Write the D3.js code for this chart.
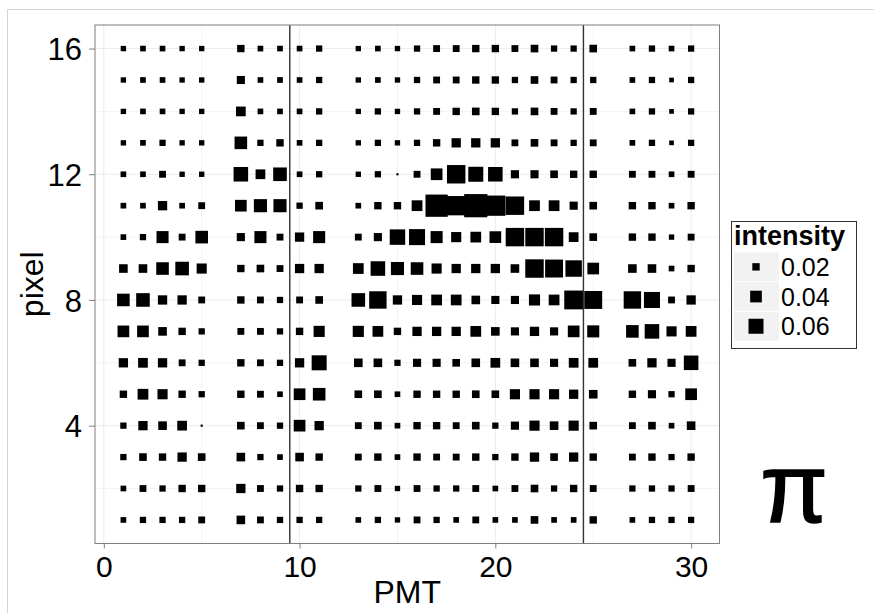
<!DOCTYPE html>
<html>
<head>
<meta charset="utf-8">
<script src="https://cdn.jsdelivr.net/npm/d3@7"></script>
<style>
  html, body { margin: 0; padding: 0; background: #fff; }
  svg { display: block; }
  text { font-family: "Liberation Sans", Arial, Helvetica, sans-serif; fill: #000; }
</style>
</head>
<body>
<svg id="chart" width="874" height="613"></svg>
<script>
// PMT columns that carry readings (6, 12 and 26 are absent)
const pmt = [1,2,3,4,5,7,8,9,10,11,13,14,15,16,17,18,19,20,21,22,23,24,25,27,28,29,30];
// pixel rows, top to bottom
const pixels = [16,15,14,13,12,11,10,9,8,7,6,5,4,3,2,1];
// intensity per pixel row, one value per PMT column above
const intensity = [
  [.013,.014,.014,.013,.013,.020,.014,.014,.014,.016,.013,.014,.013,.016,.018,.018,.020,.020,.018,.021,.016,.016,.021,.014,.016,.014,.016],
  [.013,.014,.014,.013,.013,.023,.014,.014,.014,.016,.013,.014,.013,.016,.018,.018,.020,.020,.016,.021,.018,.016,.016,.014,.016,.011,.016],
  [.013,.014,.014,.013,.013,.030,.014,.014,.014,.016,.013,.016,.013,.016,.018,.020,.021,.020,.016,.021,.018,.016,.018,.014,.016,.011,.016],
  [.013,.014,.016,.013,.013,.045,.016,.020,.014,.016,.013,.016,.013,.016,.020,.028,.028,.028,.018,.021,.018,.016,.018,.014,.016,.011,.016],
  [.014,.014,.018,.013,.013,.057,.030,.051,.014,.016,.013,.016,.005,.018,.040,.085,.060,.057,.023,.023,.021,.020,.020,.018,.018,.014,.018],
  [.014,.014,.028,.014,.018,.040,.048,.048,.016,.021,.014,.020,.020,.035,.118,.092,.127,.100,.085,.035,.035,.023,.021,.020,.020,.014,.020],
  [.014,.016,.042,.018,.045,.023,.042,.018,.028,.042,.018,.023,.063,.067,.042,.032,.035,.040,.085,.085,.085,.030,.021,.020,.020,.013,.018],
  [.025,.025,.045,.051,.032,.020,.021,.018,.028,.028,.035,.057,.048,.045,.032,.028,.028,.028,.025,.085,.081,.070,.040,.025,.025,.014,.020],
  [.045,.051,.028,.028,.018,.020,.018,.016,.018,.021,.051,.077,.028,.032,.035,.035,.025,.023,.023,.037,.035,.088,.081,.077,.067,.018,.028],
  [.040,.040,.025,.020,.016,.018,.018,.016,.020,.037,.037,.035,.020,.028,.028,.028,.035,.025,.023,.028,.023,.040,.042,.045,.057,.032,.035],
  [.028,.030,.028,.018,.016,.020,.018,.016,.028,.060,.025,.025,.016,.023,.023,.021,.025,.030,.025,.025,.023,.030,.030,.021,.028,.023,.057],
  [.020,.035,.032,.020,.016,.020,.018,.014,.040,.045,.021,.021,.014,.020,.020,.020,.021,.021,.032,.032,.032,.028,.025,.020,.023,.016,.040],
  [.016,.028,.025,.030,.005,.021,.018,.016,.040,.028,.018,.021,.014,.020,.020,.018,.021,.016,.023,.032,.025,.032,.021,.018,.021,.014,.025],
  [.016,.021,.020,.028,.021,.025,.016,.014,.025,.020,.018,.020,.014,.020,.018,.018,.020,.016,.020,.028,.021,.028,.020,.018,.020,.016,.020],
  [.014,.018,.016,.020,.020,.028,.018,.016,.020,.020,.016,.018,.013,.018,.016,.016,.018,.014,.018,.021,.016,.020,.018,.016,.016,.016,.018],
  [.014,.016,.016,.016,.018,.025,.018,.016,.016,.016,.014,.016,.013,.018,.016,.014,.018,.014,.014,.021,.014,.014,.020,.014,.016,.016,.016]
];
// PMT group boundaries
const boundaries = [9.5, 24.5];
const xTicks = [0, 10, 20, 30];
const yTicks = [4, 8, 12, 16];
const xMinor = [5, 15, 25];
const yMinor = [2, 6, 10, 14];
const legendBreaks = [0.02, 0.04, 0.06];

const points = [];
pixels.forEach((p, i) => pmt.forEach((m, j) => points.push({ pmt: m, pixel: p, value: intensity[i][j] })));

const svg = d3.select("#chart");
const panel = { left: 95, right: 719.5, top: 25, bottom: 543.5 };

const x = d3.scaleLinear().domain([-0.45, 31.45]).range([panel.left, panel.right]);
const y = d3.scaleLinear().domain([0.25, 16.75]).range([panel.bottom, panel.top]);
// square side length in px from intensity
const side = d3.scaleSqrt().domain([0.003, 0.06]).range([1, 15]);

// outer plot frame
svg.append("rect").attr("x", 7.5).attr("y", 9.5).attr("width", 900).attr("height", 700)
  .attr("fill", "none").attr("stroke", "#d4d4d4").attr("stroke-width", 1);

// grid
const grid = svg.append("g");
grid.selectAll(".gx").data(xMinor.concat(xTicks)).join("line")
  .attr("x1", d => x(d)).attr("x2", d => x(d)).attr("y1", panel.top).attr("y2", panel.bottom)
  .attr("stroke", d => xTicks.includes(d) ? "#ececec" : "#f3f3f3").attr("stroke-width", 1);
grid.selectAll(".gy").data(yMinor.concat(yTicks)).join("line")
  .attr("y1", d => y(d)).attr("y2", d => y(d)).attr("x1", panel.left).attr("x2", panel.right)
  .attr("stroke", d => yTicks.includes(d) ? "#ececec" : "#f3f3f3").attr("stroke-width", 1);

// squares
svg.append("g").selectAll("rect").data(points).join("rect")
  .attr("x", d => x(d.pmt) - side(d.value) / 2)
  .attr("y", d => y(d.pixel) - side(d.value) / 2)
  .attr("width", d => side(d.value))
  .attr("height", d => side(d.value))
  .attr("fill", "#000");

// group boundaries
svg.append("g").selectAll("line").data(boundaries).join("line")
  .attr("x1", d => x(d)).attr("x2", d => x(d)).attr("y1", panel.top).attr("y2", panel.bottom)
  .attr("stroke", "#333").attr("stroke-width", 1.4);

// panel border
svg.append("rect").attr("x", panel.left).attr("y", panel.top)
  .attr("width", panel.right - panel.left).attr("height", panel.bottom - panel.top)
  .attr("fill", "none").attr("stroke", "#7f7f7f").attr("stroke-width", 1);

// axes
const xAxis = d3.axisBottom(x).tickValues(xTicks).tickSize(5).tickPadding(4).tickFormat(d3.format("d"));
const gx = svg.append("g").attr("transform", `translate(0,${panel.bottom})`).call(xAxis);
gx.select(".domain").remove();
gx.selectAll(".tick line").attr("stroke", "#7f7f7f");
gx.selectAll(".tick text").attr("font-size", 30).attr("font-family", null).attr("fill", "#000")
  .attr("dy", null).attr("y", 33);

const yAxis = d3.axisLeft(y).tickValues(yTicks).tickSize(6).tickPadding(4).tickFormat(d3.format("d"));
const gy = svg.append("g").attr("transform", `translate(${panel.left},0)`).call(yAxis);
gy.select(".domain").remove();
gy.selectAll(".tick line").attr("stroke", "#7f7f7f");
gy.selectAll(".tick text").attr("font-size", 31).attr("font-family", null).attr("fill", "#000")
  .attr("x", -13).attr("dy", "0.36em");

// axis titles
svg.append("text").attr("x", (panel.left + panel.right) / 2).attr("y", 603)
  .attr("text-anchor", "middle").attr("font-size", 32).text("PMT");
svg.append("text").attr("transform", `translate(43,${(panel.top + panel.bottom) / 2}) rotate(-90)`)
  .attr("text-anchor", "middle").attr("font-size", 32).text("pixel");

// legend
const lg = svg.append("g");
lg.append("rect").attr("x", 731.5).attr("y", 221.5).attr("width", 125).attr("height", 127)
  .attr("fill", "#fff").attr("stroke", "#333").attr("stroke-width", 1);
lg.append("text").attr("x", 734).attr("y", 245).attr("font-size", 27).attr("font-weight", "bold").text("intensity");
const keyTop = 252, keyH = 29.7;
legendBreaks.forEach((b, i) => {
  const cy = keyTop + keyH * i + keyH / 2;
  lg.append("rect").attr("x", 734).attr("y", keyTop + keyH * i + 0.5).attr("width", 45).attr("height", keyH - 1)
    .attr("fill", "#f2f2f2");
  const s = side(b);
  lg.append("rect").attr("x", 756 - s / 2).attr("y", cy - s / 2).attr("width", s).attr("height", s).attr("fill", "#000");
  lg.append("text").attr("x", 781).attr("y", cy).attr("dy", "0.36em").attr("font-size", 25).text(b.toFixed(2));
});

// particle label
svg.append("text").attr("x", 794).attr("y", 522).attr("text-anchor", "middle")
  .attr("font-family", "'DejaVu Serif', serif")
  .attr("font-size", 98).attr("stroke", "#000").attr("stroke-width", 1.5).text("π");
</script>
</body>
</html>
